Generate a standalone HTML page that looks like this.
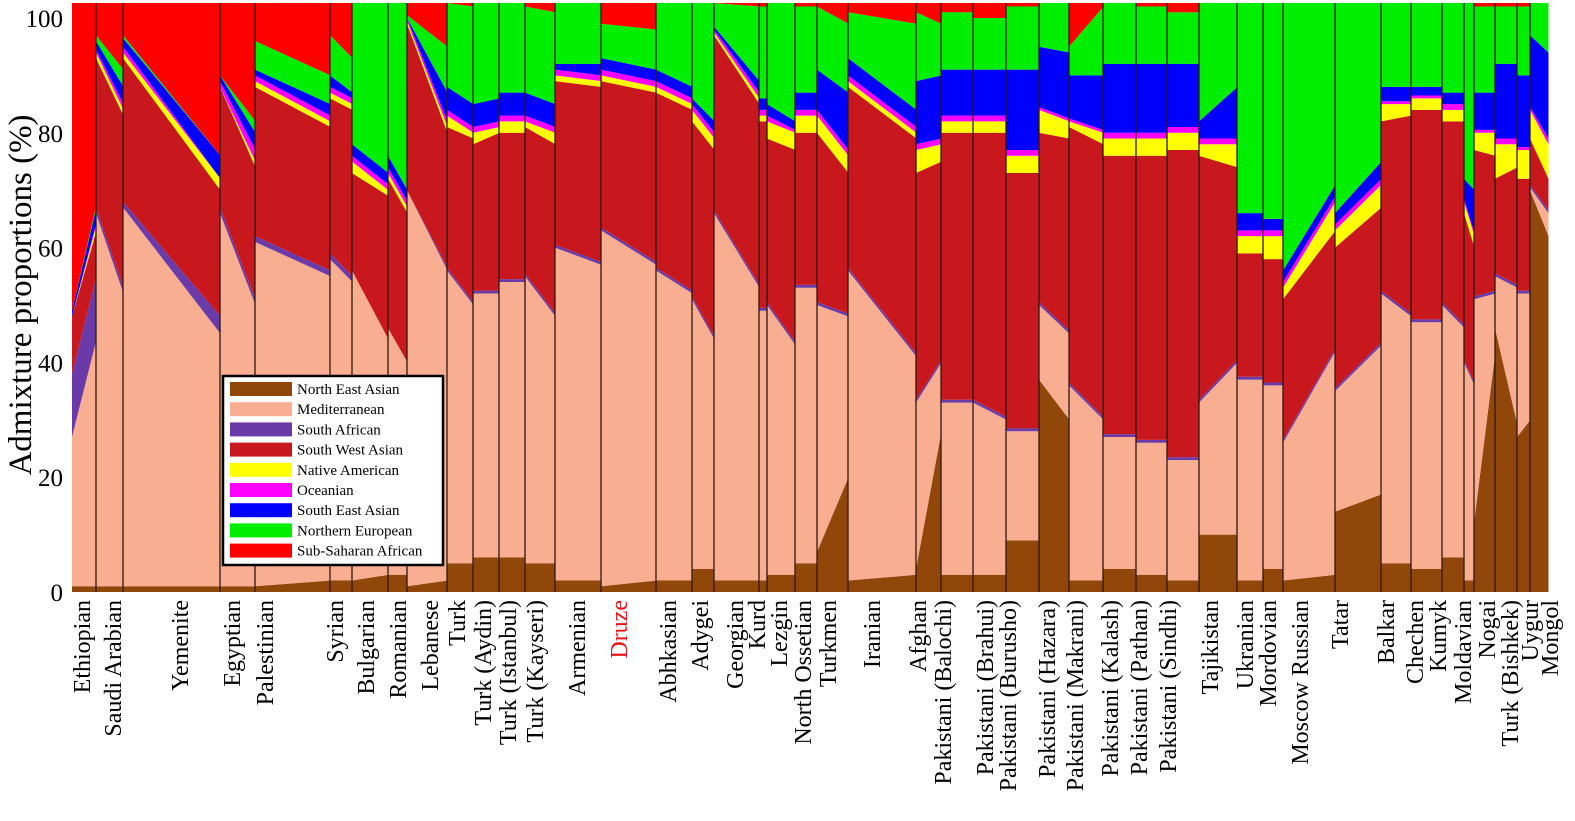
<!DOCTYPE html>
<html><head><meta charset="utf-8"><style>
html,body{margin:0;padding:0;background:#fff;}
svg{display:block;font-family:"Liberation Serif",serif;}
</style></head><body>
<svg id="chart" width="1575" height="821" viewBox="0 0 1575 821" xmlns="http://www.w3.org/2000/svg">
<g id="bars"></g>
<g id="seps"></g>
<g id="yaxis"></g>
<g id="xlabels"></g>
<text transform="translate(31,295) rotate(-90)" text-anchor="middle" font-size="33">Admixture proportions (%)</text>
<g id="legend"></g>
</svg>
<script>
const populations = ["Ethiopian","Saudi Arabian","Yemenite","Egyptian","Palestinian","Syrian","Bulgarian","Romanian","Lebanese","Turk","Turk (Aydin)","Turk (Istanbul)","Turk (Kayseri)","Armenian","Druze","Abhkasian","Adygei","Georgian","Kurd","Lezgin","North Ossetian","Turkmen","Iranian","Afghan","Pakistani (Balochi)","Pakistani (Brahui)","Pakistani (Burusho)","Pakistani (Hazara)","Pakistani (Makrani)","Pakistani (Kalash)","Pakistani (Pathan)","Pakistani (Sindhi)","Tajikistan","Ukranian","Mordovian","Moscow Russian","Tatar","Balkar","Chechen","Kumyk","Moldavian","Nogai","Turk (Bishkek)","Uygur","Mongol"];
const sampleCounts = [24,27,97,35,75,22,36,19,40,26,26,26,30,46,55,36,22,45,8,28,22,31,68,25,32,33,33,30,34,33,31,32,38,26,20,52,46,30,31,22,10,21,22,13,18];
const components = ["North East Asian","Mediterranean","South African","South West Asian","Native American","Oceanian","South East Asian","Northern European","Sub-Saharan African"];
const componentColors = ["#914709","#f9ae92","#6a3aa8","#c8181e","#ffff00","#ff00ff","#0000ff","#00ee00","#ff0000"];
// cumulative stack tops (%) at start of each population: NEA, +Med, +SAfr, +SWA, +NatAm, +Oce, +SEA, +NEur (rest Sub-Saharan)
const startTops = [
[1,27,38,48,48,48,49,49],[1,66,67,93,94,94.5,96,97],[1,67,68,93,94,95,96.5,97],[1,66,67,88,88,89,90,90],[1,61,62,88,89,90,91,96],
[2,58,59,86,87,88,90,97],[2,56,56,73,75,76,78,103],[3,46,46,72,73,74,76,103],[1,70,70,99,99.5,100,100,100.5],[5,56,56.5,81,83,84,88,103],
[6,52,52.5,78,80,81,85,103],[6,54,54.5,80,82,83,87,103],[5,55,55.5,81,82,83,87,102],[2,60,60.5,89,90,91,92,103],[1,63,63.5,89,90,91,93,99],
[2,56,56.5,87,88,89,91,103],[4,51,51.5,82,84,85,86,103],[2,66,66.5,97,97.5,98,98.5,103],[2,49,49.5,82,83,84,86,102],[3,50,50.5,79,82,83,85,103],
[5,53,53.5,80,83,84,87,102],[7,50,50.5,80,83,84,91,102],[2,56,56.5,88,89,90,93,101],[4,33,33.5,73,77,78,89,101],[3,33,33.5,80,82,83,91,101],
[3,33,33.5,80,82,83,91,100],[9,28,28.5,73,76,77,91,102],[37,50,50.5,80,84,84.5,95,103],[2,36,36.5,81,82,82.5,90,95],[4,27,27.5,76,79,80,92,103],
[3,26,26.5,76,79,80,92,102],[2,23,23.5,77,80,81,92,101],[10,33,33.5,76,78,79,82,103],[2,37,37.5,59,62,63,66,103],[4,36,36.5,58,62,63,65,103],
[2,26,26.5,51,53,54,56,103],[14,35,35.5,60,63,64,66,103],[5,52,52.5,82,85,85.5,88,103],[4,47,47.5,84,86,86.5,88,103],[6,50,50.5,82,84,85,87,103],
[2,40,40.5,66,68,68.5,72,103],[12,51,51.5,77,80,80.5,87,102],[46,55,55.5,72,78,79,92,102],[27,52,52.5,72,77,77.5,90,102],[70,70.5,71,79,84,84.5,97,103]];
const endTops = [
[1,44,55,63,64,64.5,67,67.5],[1,52,53,83,84,85,88,91],[1,45,48,70,72,72,76,76],[1,50,51,74,75,77,80,82],[2,55,56,81,82,83,85,90],
[2,54,55,84,85,86,87,93],[3,44,44,69,70,71,73,103],[3,40,40,66,67,68,70,103],[2,56,56.5,80,81,82,87,95],[5,50,50.5,79,80,81,85,102],
[6,52,52.5,80,81,82,86,103],[6,54,54.5,80,82,83,87,103],[5,48,48.5,78,80,81,85,101],[2,57,57.5,88,89,90,92,103],[2,57,57.5,87,88,89,91,98],
[2,52,52.5,84,85,86,88,103],[4,44,44.5,77,79,80,82,103],[2,53,53.5,85,86,87,89,102],[2,49,49.5,82,83,84,86,102],[3,43,43.5,77,80,80.5,82,103],
[5,53,53.5,80,83,84,87,102],[20,48,48.5,73,76,77,87,99],[3,41,41.5,79,80,81,84,99],[28,40,40.5,75,78,79,90,99],[3,33,33.5,80,82,83,91,101],
[3,30,30.5,80,82,83,91,100],[9,28,28.5,73,76,77,91,102],[30,45,45.5,79,82,82.5,94,103],[2,30,30.5,78,80,80.5,90,102],[4,27,27.5,76,79,80,92,103],
[3,26,26.5,76,79,80,92,102],[2,23,23.5,77,80,81,92,101],[10,40,40.5,74,78,79,88,103],[2,37,37.5,59,62,63,66,103],[4,36,36.5,58,62,63,65,103],
[3,42,42.5,63,68,69,71,103],[17,43,43.5,67,71,72,75,103],[5,48,48.5,83,85,85.5,88,103],[4,47,47.5,84,86,86.5,88,103],[6,46,46.5,82,84,85,87,103],
[2,36,36.5,60,62,62.5,70,103],[42,52,52.5,76,80,80.5,87,102],[29,53,53.5,74,78,79,92,102],[30,52,52.5,72,77,77.5,90,102],[62,66,66.5,72,78,79,94,103]];
const yTicks = [0,20,40,60,80,100];
const labelX = [82,113,180,232,265,335,366,398,430,457,483,508,535,577,619,668,700,735,757,779,803,828,872,918,943,985,1008,1047,1075,1110,1139,1168,1210,1245,1268,1300,1340,1386,1415,1438,1463,1487,1510,1530,1550];

const NS = "http://www.w3.org/2000/svg";
const X0 = 72, X1 = 1548, Y0 = 592, YTOP = 3, PXU = 5.74;
const totalSamples = sampleCounts.reduce((a,b)=>a+b,0);
function xScale(s){ return X0 + s * (X1 - X0) / totalSamples; }
function yScale(v){ return Math.max(YTOP, Y0 - v * PXU); }
function mk(tag, attrs, parent){ const e=document.createElementNS(NS,tag); for(const k in attrs) e.setAttribute(k,attrs[k]); parent.appendChild(e); return e; }

const bars = document.getElementById('bars');
const seps = document.getElementById('seps');
let cum = 0;
populations.forEach((p,i)=>{
  const xa = xScale(cum), xb = xScale(cum + sampleCounts[i]);
  const g = mk('g',{},bars);
  
  
  for(let c=0;c<9;c++){
    const s0 = c===0 ? 0 : startTops[i][c-1], e0 = c===0 ? 0 : endTops[i][c-1];
    const s1 = c===8 ? 200 : startTops[i][c], e1 = c===8 ? 200 : endTops[i][c];
    const poly = mk('polygon',{points:`${xa},${yScale(s0)} ${xb+0.5},${yScale(e0)} ${xb+0.5},${yScale(e1)} ${xa},${yScale(s1)}`, fill:componentColors[c]}, g);
    
    
  }
  if(i>0){
    const l = mk('line',{x1:xa,x2:xa,y1:YTOP,y2:Y0,stroke:'#2a1a10','stroke-width':1.3},seps);
    
    
  }
  cum += sampleCounts[i];
});

const yax = document.getElementById('yaxis');
yTicks.forEach(t=>{
  const tx = mk('text',{x:63,y:Y0 - t*PXU + 9,'text-anchor':'end','font-size':25},yax);
  tx.textContent = t;
  
  
});

const xl = document.getElementById('xlabels');
populations.forEach((p,i)=>{
  const x = labelX[i] + 8;
  const tx = mk('text',{transform:`translate(${x},600) rotate(-90)`,'text-anchor':'end','font-size':24,fill: p==='Druze' ? '#e8151b' : '#000'},xl);
  tx.textContent = p;
  
  
});

const lg = document.getElementById('legend');
const box = mk('rect',{x:223,y:376,width:220,height:189,fill:'#fff',stroke:'#000','stroke-width':2.5},lg);


components.forEach((c,i)=>{
  const y = 382 + i*20.2;
  const sw = mk('rect',{x:230,y:y,width:62,height:14,fill:componentColors[i]},lg);
  
  
  const tx = mk('text',{x:297,y:y+12,'font-size':15},lg);
  tx.textContent = c;
  
  
});
</script>
</body></html>
